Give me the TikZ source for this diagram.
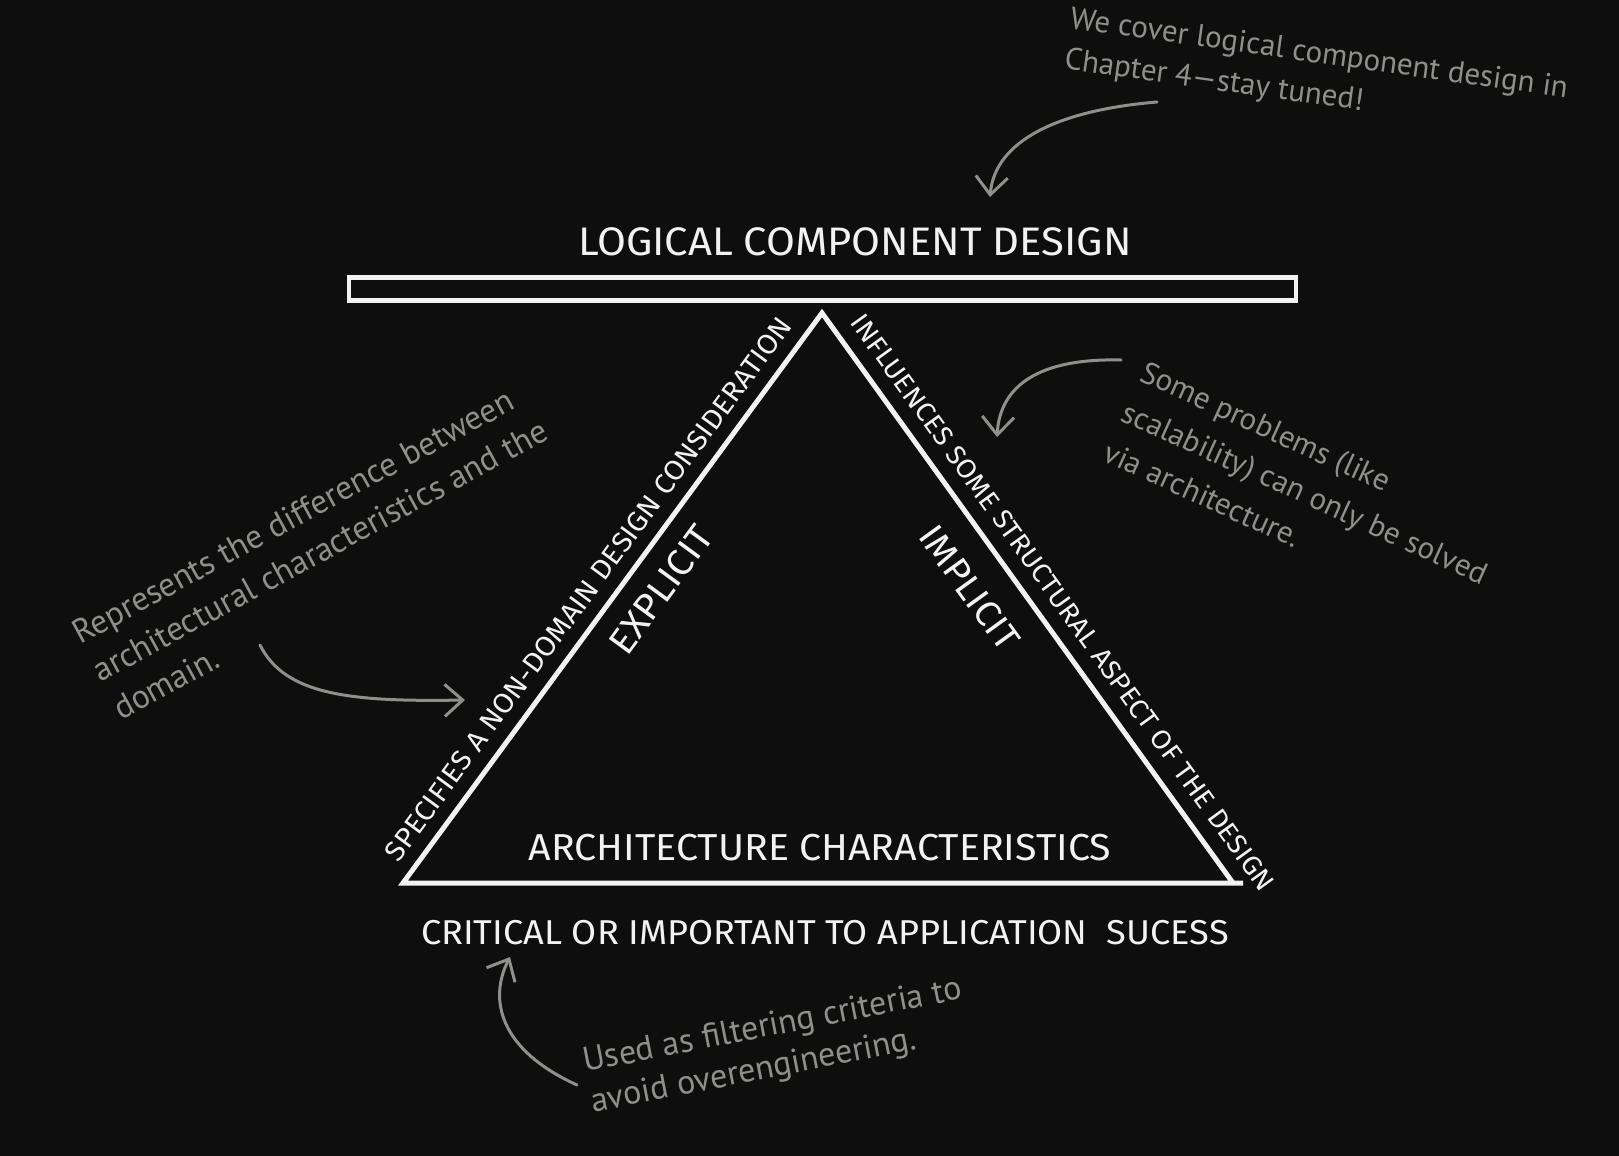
\documentclass[tikz,border=0pt]{standalone}
\usepackage{fontspec}
\usetikzlibrary{calc,arrows.meta}
\newfontfamily\capsfont{Fira Sans}[FakeStretch=1.05]
\newfontfamily\handfont{PT Sans}
\definecolor{bg}{HTML}{0E0E0E}
\definecolor{ink}{HTML}{F2F2F2}
\definecolor{notegray}{HTML}{8F8F8B}
\begin{document}
\begin{tikzpicture}[x=1pt,y=-1pt,
  caps/.style={text=ink, inner sep=0pt, font=\capsfont\fontsize{#1}{#1}\selectfont},
  note/.style={text=notegray, inner sep=0pt, anchor=base west,
    font=\handfont\fontsize{#1}{#1}\selectfont},
  notearrow/.style={draw=notegray, line width=3pt, line cap=round,
    -{Straight Barb[length=18pt,width=32pt]}},
  edge/.style={draw=ink, line width=5pt, line join=miter}]

% canvas
\fill[bg] (0,0) rectangle (1619,1156);
\useasboundingbox (0,0) rectangle (1619,1156);

% top bar and its title
\node[caps=39.8pt, anchor=base] (title) at (855,255) {LOGICAL COMPONENT DESIGN};
\node[draw=ink, line width=4.5pt, minimum width=947pt, minimum height=23pt, inner sep=0pt]
  (bar) at (822.5,289) {};

% the triangle
\coordinate (apex) at (822,313);
\coordinate (bl) at (403,883);
\coordinate (br) at (1233,883);
\coordinate (brx) at (1243,883);
\draw[edge] (brx) -- (bl) -- (apex) -- (br);

% labels along the sides
\node[caps=28pt, rotate=53.7] (specifies) at ($($(bl)!0.49!(apex)$)!25pt!90:(apex)$)
  {SPECIFIES A NON-DOMAIN DESIGN CONSIDERATION};
\node[caps=27pt, rotate=-54.2] (influences) at ($($(apex)!0.535!(br)$)!26pt!90:(br)$)
  {INFLUENCES SOME STRUCTURAL ASPECT OF THE DESIGN};
\node[caps=37pt, rotate=53.7] (explicit) at ($($(bl)!0.55!(apex)$)!34pt!-90:(apex)$) {EXPLICIT};
\node[caps=36pt, rotate=-54.2] (implicit) at ($($(apex)!0.44!(br)$)!41pt!-90:(br)$) {IMPLICIT};

% base labels
\node[caps=37.5pt, anchor=base] (archchar) at (820,860) {ARCHITECTURE CHARACTERISTICS};
\node[caps=34.5pt, anchor=base] (critical) at (825,944)
  {CRITICAL OR IMPORTANT TO APPLICATION \ SUCESS};

% side notes
\node[note=31pt, rotate=-8] (notetop) at (1069,28)
  {\vtop{\baselineskip=41pt\hbox{We cover logical component design in}\hbox{Chapter 4—stay tuned!}}};
\node[note=31pt, rotate=-24.5] (noteright) at (1138,380)
  {\vtop{\baselineskip=44pt\hbox{Some problems (like}\hbox{scalability) can only be solved}\hbox{via architecture.}}};
\node[note=33.5pt, rotate=28.5] (noteleft) at (80,645)
  {\vtop{\baselineskip=43pt\hbox{Represents the difference between}\hbox{architectural characteristics and the}\hbox{domain.}}};
\node[note=34pt, rotate=11] (notebottom) at (585,1072)
  {\vtop{\baselineskip=41pt\hbox{Used as filtering criteria to}\hbox{avoid overengineering.}}};

% arrows from the notes
\coordinate (n1s) at (1157,102);
\coordinate (n1e) at (990,197);
\draw[notearrow] (n1s) .. controls (1060,110) and (995,140) .. (n1e);
\coordinate (n2s) at (1121,360);
\coordinate (n2e) at (997,437);
\draw[notearrow] (n2s) .. controls (1040,358) and (1000,385) .. (n2e);
\coordinate (n3s) at (260,645);
\coordinate (n3e) at (465,700);
\draw[notearrow] (n3s) .. controls (285,695) and (350,702) .. (n3e);
\coordinate (n4s) at (577,1085);
\coordinate (n4e) at (510,957);
\draw[notearrow] (n4s) .. controls (500,1050) and (488,1000) .. (n4e);
\end{tikzpicture}
\end{document}
